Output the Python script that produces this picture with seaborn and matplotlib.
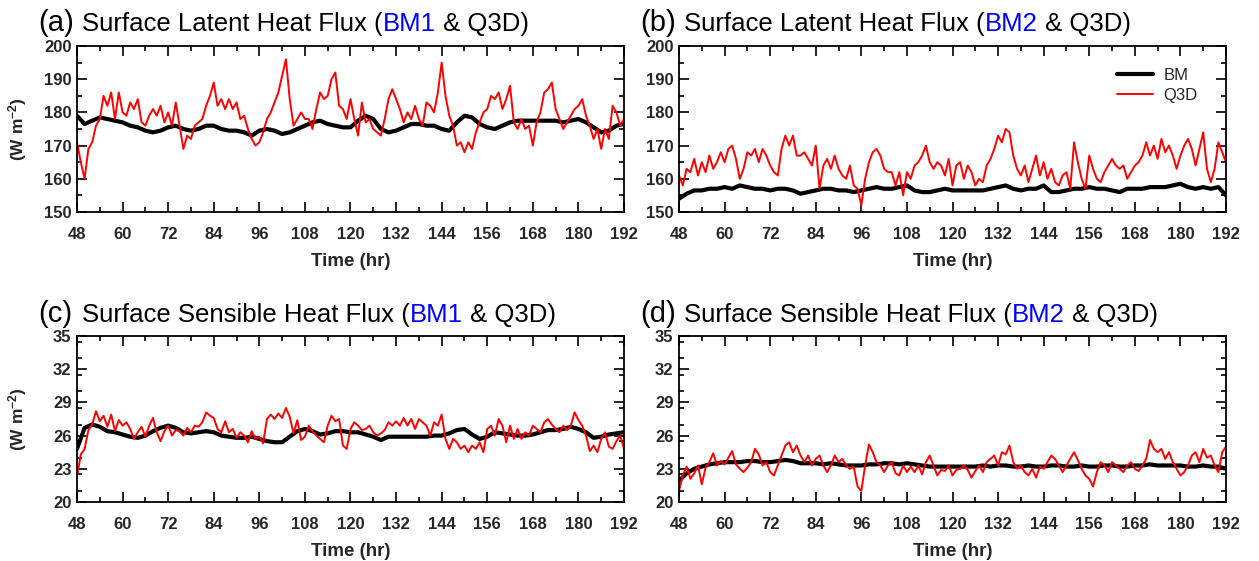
import numpy as np
import pandas as pd
import matplotlib
matplotlib.use("Agg")
import matplotlib.pyplot as plt
from matplotlib.ticker import MultipleLocator
import seaborn as sns

# ---------------- data ----------------
hours_q3d = np.arange(48, 193, 1)   # hourly samples of Q3D
hours_bm = np.arange(48, 193, 2)    # 2-hourly samples of BM

lh_q3d_bm1 = [171,165,160,169,171,176,178,185,182,186,178,186,
              180,179,183,181,184,177,176,179,181,179,182,177,
              180,176,183,176,169,173,172,176,177,178,182,185,
              189,182,184,181,184,181,183,178,179,175,172,170,
              171,174,178,180,183,186,191,196,184,176,178,180,
              178,178,175,181,186,184,185,190,192,182,181,178,
              184,178,173,183,177,178,175,174,173,178,184,187,
              184,181,177,180,178,182,178,176,183,182,180,186,
              195,185,179,176,170,171,168,171,169,174,177,180,
              181,185,184,186,181,184,188,177,175,178,175,176,
              170,177,180,186,187,189,181,178,175,177,179,181,
              182,184,179,176,172,175,169,175,172,182,180,176,
              178]
lh_bm1 = [179,176.5,177.5,178.5,178,177.5,177,176,175.5,174.5,174,174.5,
          175.5,176,175,174.5,175,176,176,175,174.5,174.5,174,173,
          174.5,175,174.5,173.5,174,175,176,177,177.5,176.5,176,175.5,
          175.5,177.5,179,178,175,174,174.5,175.5,176.5,176.5,176,176,
          175,174.5,177,179,178.5,176.5,175.5,175,176,177,177.5,177.5,
          177.5,177.5,177.5,177.5,177,177.5,178,177,175.5,174,174.5,176,
          176.5]

lh_q3d_bm2 = [161,158,163,162,166,161,165,162,167,163,165,168,
              165,169,170,166,160,163,168,167,169,165,169,167,
              164,162,161,169,173,170,173,167,167,168,166,164,
              170,157,164,166,163,167,163,161,160,164,158,157,
              152,160,165,168,169,167,163,162,162,158,162,155,
              162,160,164,165,167,170,165,163,165,164,161,166,
              158,164,165,160,164,162,158,160,159,164,166,169,
              173,171,175,174,167,163,161,164,159,163,167,161,
              165,160,163,159,158,161,162,157,171,165,160,157,
              167,163,160,159,162,164,166,164,163,164,160,162,
              164,165,167,171,167,170,166,172,168,170,167,163,
              167,170,172,169,164,169,174,163,159,163,171,168,
              165]
lh_bm2 = [154,155.5,156.5,156.5,157,157,157.5,157,158,157.5,157,157,
          156.5,157,157,156.5,155.5,156,156.5,157,157,156.5,156.5,156,
          156.5,157,157.5,157,157,157.5,158,156.5,156,156,156.5,157,
          156.5,156.5,156.5,156.5,156.5,157,157.5,158,157,156.5,157,157,
          158,156,156,156.5,157,157,157.5,157,157,156.5,156,157,
          157,157,157.5,157.5,157.5,158,158.5,157.5,157,157.5,157,157.5,
          155]

sh_q3d_bm1 = [22.3,24.3,24.8,26.5,27.0,28.2,27.3,27.8,26.8,27.9,26.4,27.4,
              26.9,27.2,26.6,25.7,26.3,26.8,25.9,26.9,27.6,26.3,25.5,26.4,
              26.9,26.0,26.5,26.4,26.0,26.7,26.3,26.9,26.8,27.2,28.1,27.8,
              27.6,26.6,26.3,27.3,26.3,26.6,25.8,26.3,26.0,25.4,26.4,25.7,
              25.9,25.3,27.5,27.9,27.5,28.0,27.6,28.5,27.7,26.2,27.4,25.6,
              25.9,26.9,26.4,26.0,25.7,25.4,26.9,27.8,27.3,27.5,25.1,24.8,
              26.6,27.2,26.9,26.5,26.6,26.9,26.3,26.0,26.2,26.5,27.2,26.9,
              27.3,26.9,27.6,26.9,27.5,26.6,27.5,27.2,26.9,26.0,27.2,26.9,
              27.9,25.7,24.8,25.7,25.4,24.8,25.1,24.5,25.1,24.8,25.4,24.5,
              26.6,26.9,26.0,27.5,26.9,25.4,26.9,25.7,26.6,25.7,26.3,26.0,
              26.9,26.6,26.3,27.2,27.5,27.0,26.6,26.3,26.9,26.5,26.9,28.1,
              27.4,26.9,26.0,24.6,25.1,24.5,25.7,26.3,25.0,24.8,25.5,26.0,
              24.8]
sh_bm1 = [24.8,26.7,27.0,26.8,26.4,26.3,26.1,25.9,25.8,26.0,26.4,26.7,
          26.9,26.7,26.3,26.2,26.3,26.4,26.3,26.0,25.9,25.8,25.8,25.9,
          25.7,25.5,25.4,25.4,25.9,26.4,26.6,26.4,26.1,26.2,26.4,26.4,
          26.3,26.3,26.1,25.9,25.6,25.9,25.9,25.9,25.9,25.9,25.9,26.0,
          26.0,26.2,26.5,26.6,26.1,25.7,25.9,26.3,26.2,26.1,26.0,26.0,
          26.1,26.3,26.5,26.5,26.6,26.8,26.6,26.3,25.8,25.9,26.1,26.2,
          26.3]

sh_q3d_bm2 = [21.0,22.4,23.2,22.1,22.6,23.3,21.6,23.1,23.6,24.4,23.3,23.7,
              23.4,24.0,24.6,23.4,23.0,22.7,23.1,23.6,24.8,24.3,23.3,23.6,
              22.7,22.4,23.3,24.2,25.1,25.4,24.5,25.1,24.2,23.6,24.2,23.3,
              23.9,24.2,23.3,22.7,23.3,24.2,23.6,23.9,23.3,23.0,23.2,21.4,
              21.0,23.3,25.2,24.5,23.6,23.3,22.7,23.3,23.6,22.6,22.4,23.3,
              22.7,23.2,22.7,23.3,22.5,23.6,24.2,23.3,22.4,22.9,22.8,23.3,
              22.4,22.9,23.0,23.3,22.9,22.2,22.8,23.3,22.7,23.6,23.9,24.2,
              23.3,24.5,24.3,25.1,23.6,23.0,23.3,22.7,22.4,23.0,22.2,23.2,
              23.0,23.6,24.2,23.9,23.3,22.7,23.3,23.9,24.5,23.8,23.0,22.4,
              22.1,21.4,22.7,23.6,23.3,22.7,23.6,23.3,23.0,22.7,23.3,23.6,
              23.0,22.8,23.3,23.9,25.6,24.8,24.5,24.8,23.9,24.5,23.6,23.0,
              22.4,22.7,23.3,24.2,24.5,23.6,24.8,24.0,24.2,23.3,22.7,24.5,
              25.0]
sh_bm2 = [21.9,22.6,23.0,23.2,23.4,23.5,23.6,23.6,23.6,23.7,23.7,23.6,
          23.6,23.7,23.8,23.7,23.5,23.5,23.5,23.4,23.5,23.4,23.3,23.3,
          23.3,23.4,23.4,23.5,23.5,23.4,23.5,23.4,23.3,23.2,23.2,23.2,
          23.2,23.2,23.2,23.2,23.3,23.2,23.3,23.3,23.2,23.2,23.3,23.2,
          23.2,23.3,23.3,23.2,23.2,23.3,23.2,23.2,23.3,23.3,23.2,23.2,
          23.3,23.3,23.4,23.3,23.3,23.3,23.3,23.2,23.2,23.3,23.2,23.2,
          23.0]

x_ticks = [48, 60, 72, 84, 96, 108, 120, 132, 144, 156, 168, 180, 192]
x_tick_labels = [str(v) for v in x_ticks]
lh_ticks = [150, 160, 170, 180, 190, 200]
sh_ticks = [20, 23, 26, 29, 32, 35]

panel_letters = ["(a)", "(b)", "(c)", "(d)"]
panel_names = ["Surface Latent Heat Flux (", "Surface Latent Heat Flux (",
               "Surface Sensible Heat Flux (", "Surface Sensible Heat Flux ("]
panel_bm = ["BM1", "BM2", "BM1", "BM2"]
legend_labels = ["BM", "Q3D"]
x_label = "Time (hr)"
y_label = r"(W m$^{-2}$)"

# ---------------- style ----------------
sns.set_theme(style="ticks")
plt.rcParams["font.family"] = ["Liberation Sans", "DejaVu Sans"]
plt.rcParams["mathtext.fontset"] = "custom"
plt.rcParams["mathtext.bf"] = "Liberation Sans:bold"
plt.rcParams["mathtext.rm"] = "Liberation Sans:bold"
plt.rcParams["mathtext.default"] = "bf"

W, H = 1259, 561
fig = plt.figure(figsize=(W / 100, H / 100), dpi=100)
fig.patch.set_facecolor("white")

AX_W = 547 / W
AX_H = 166 / H
lefts = [77 / W, 679 / W]
bottoms = [1 - 212 / H, 1 - 502 / H]

panels = [
    (lefts[0], bottoms[0], lh_q3d_bm1, lh_bm1, lh_ticks, (150, 200), 5),
    (lefts[1], bottoms[0], lh_q3d_bm2, lh_bm2, lh_ticks, (150, 200), 5),
    (lefts[0], bottoms[1], sh_q3d_bm1, sh_bm1, sh_ticks, (20, 35), 1.5),
    (lefts[1], bottoms[1], sh_q3d_bm2, sh_bm2, sh_ticks, (20, 35), 1.5),
]
title_pos = [(38, 31), (640, 31), (38, 322), (640, 322)]

for i, (lx, by, q3d, bm, yt, ylim, ymin) in enumerate(panels):
    assert len(q3d) == len(hours_q3d) and len(bm) == len(hours_bm)
    ax = fig.add_axes([lx, by, AX_W, AX_H])
    df_bm = pd.DataFrame({"t": hours_bm, "v": bm})
    df_q = pd.DataFrame({"t": hours_q3d, "v": q3d})
    sns.lineplot(data=df_bm, x="t", y="v", ax=ax, color="black", linewidth=3.0,
                 label=legend_labels[0], legend=False)
    sns.lineplot(data=df_q, x="t", y="v", ax=ax, color="#ff0000", linewidth=1.4,
                 label=legend_labels[1], legend=False)
    ax.set_xlim(48, 192)
    ax.set_ylim(*ylim)
    ax.set_xticks(x_ticks, x_tick_labels, fontweight="bold", fontsize=12)
    ax.set_yticks(yt, [str(v) for v in yt], fontweight="bold", fontsize=12)
    ax.xaxis.set_minor_locator(MultipleLocator(6))
    ax.yaxis.set_minor_locator(MultipleLocator(ymin))
    ax.tick_params(which="both", direction="in", top=True, right=True,
                   width=1.2, color="black")
    ax.tick_params(which="major", length=7)
    ax.tick_params(which="minor", length=3.5)
    ax.tick_params(axis="x", which="major", pad=11)
    ax.tick_params(axis="y", which="major", pad=4)
    for s in ax.spines.values():
        s.set_linewidth(1.3)
        s.set_color("black")
    ax.set_xlabel(x_label, fontsize=13.5, fontweight="bold", labelpad=8)
    ax.set_ylabel("")
    ax.grid(False)
    if i == 1:
        ax.legend(loc="upper right", bbox_to_anchor=(0.96, 0.91), frameon=False,
                  fontsize=12, handlelength=2.2, labelspacing=0.3,
                  borderaxespad=0, handletextpad=0.6)

    # title pieces
    tx, tyb = title_pos[i]
    fig.text(tx / W, 1 - tyb / H, panel_letters[i], fontsize=21, va="baseline",
             ha="left", color="black")
    t1 = fig.text((tx + 44) / W, 1 - tyb / H, panel_names[i], fontsize=18.5,
                  va="baseline", ha="left", color="black")
    t2 = ax.annotate(panel_bm[i], xy=(1, 0), xycoords=t1, va="bottom", ha="left",
                     fontsize=18.5, color="#0000ff", annotation_clip=False)
    ax.annotate(" & Q3D)", xy=(1, 0), xycoords=t2, va="bottom", ha="left",
                fontsize=18.5, color="black", annotation_clip=False)

    if i in (0, 2):
        fig.text(18 / W, by + AX_H / 2, y_label, rotation=90, fontsize=12.5,
                 fontweight="bold", va="center", ha="center")

fig.savefig("out.png", dpi=100, facecolor="white")
